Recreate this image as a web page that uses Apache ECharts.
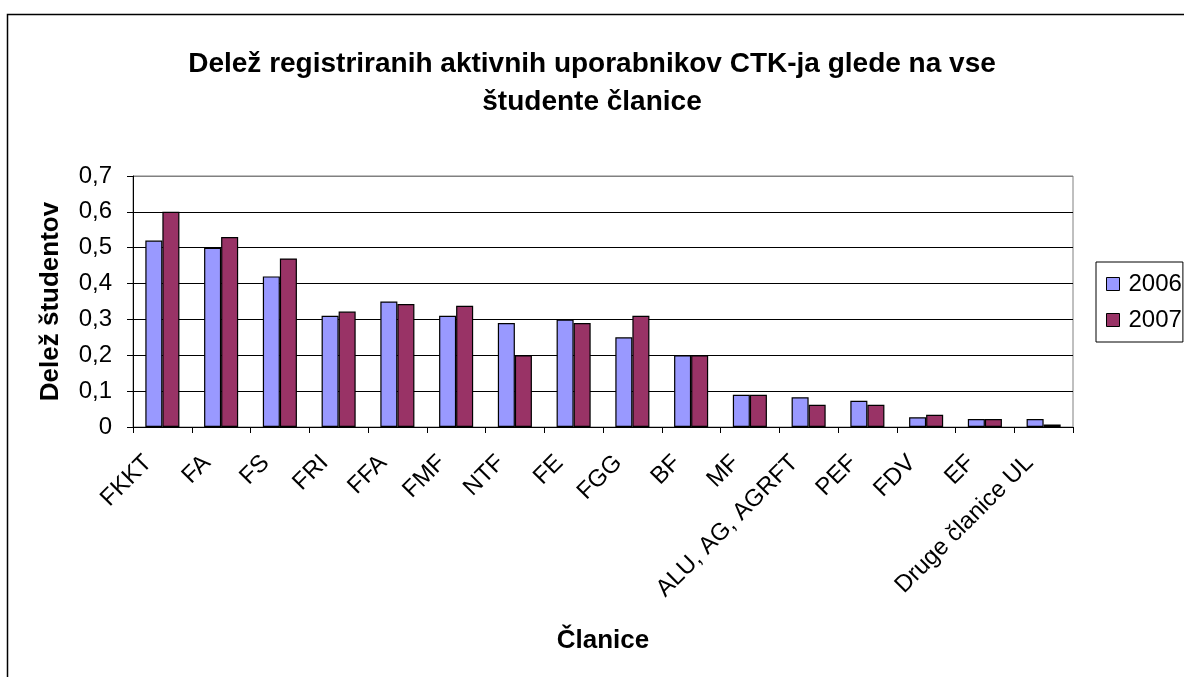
<!DOCTYPE html>
<html>
<head>
<meta charset="utf-8">
<script src="https://cdn.jsdelivr.net/npm/echarts@6/dist/echarts.min.js"></script>
<style>
  html, body { margin: 0; padding: 0; background: #fff; }
  #chart { width: 1184px; height: 677px; }
</style>
</head>
<body>
<div id="chart"></div>
<script>
// članice (kategorije)
const categories = ['FKKT', 'FA', 'FS', 'FRI', 'FFA', 'FMF', 'NTF', 'FE', 'FGG', 'BF', 'MF',
    'ALU, AG, AGRFT', 'PEF', 'FDV', 'EF', 'Druge članice UL'];

// delež študentov po letih
const values2006 = [0.52, 0.50, 0.42, 0.31, 0.35, 0.31, 0.29, 0.30, 0.25, 0.20, 0.09, 0.083, 0.073, 0.027, 0.022, 0.022];
const values2007 = [0.60, 0.53, 0.47, 0.322, 0.343, 0.338, 0.20, 0.29, 0.31, 0.20, 0.09, 0.062, 0.062, 0.034, 0.022, 0.007];

const yTicks = [0, 0.1, 0.2, 0.3, 0.4, 0.5, 0.6, 0.7];

const font = '"Liberation Sans", Arial, sans-serif';

function bar(name, data, color) {
    return {
        name: name,
        type: 'bar',
        data: data,
        barGap: '0%',
        barCategoryGap: '42%',
        itemStyle: { color: color, borderColor: '#000', borderWidth: 1.2 }
    };
}

// zgornja mrežna črta je rob risalne površine (siva)
const gridColors = yTicks.map((v, i) => i === yTicks.length - 1 ? '#808080' : '#000');

const chart = echarts.init(document.getElementById('chart'));
chart.setOption({
    backgroundColor: '#fff',
    animation: false,
    textStyle: { fontFamily: font },
    title: {
        text: 'Delež registriranih aktivnih uporabnikov CTK-ja glede na vse\nštudente članice',
        left: 'center',
        top: 40,
        textStyle: { fontSize: 28, fontWeight: 'bold', color: '#000', lineHeight: 38, fontFamily: font }
    },
    legend: {
        orient: 'vertical',
        left: 1096,
        top: 262,
        padding: [10, 1, 10, 10],
        itemGap: 12,
        itemWidth: 13,
        itemHeight: 13,
        borderColor: '#000',
        borderWidth: 1,
        icon: 'rect',
        itemStyle: { borderColor: '#000', borderWidth: 1 },
        textStyle: { fontSize: 24, color: '#000', fontFamily: font, padding: [0, 0, 0, 4] },
        data: ['2006', '2007']
    },
    grid: {
        left: 133,
        top: 176,
        width: 940,
        height: 251,
        show: true,
        borderColor: '#808080',
        borderWidth: 1,
        containLabel: false
    },
    xAxis: {
        type: 'category',
        data: categories,
        name: 'Članice',
        nameLocation: 'middle',
        nameGap: 201,
        nameTextStyle: { fontSize: 26, fontWeight: 'bold', color: '#000', fontFamily: font },
        axisLine: { lineStyle: { color: '#000', width: 1 } },
        axisTick: { show: true, length: 6, lineStyle: { color: '#000' } },
        axisLabel: {
            rotate: 45, fontSize: 24, color: '#000', margin: 18, interval: 0, fontFamily: font,
            padding: [0, 20, 0, 0]
        }
    },
    yAxis: {
        type: 'value',
        min: 0,
        max: yTicks[yTicks.length - 1],
        interval: 0.1,
        name: 'Delež študentov',
        nameLocation: 'middle',
        nameGap: 69,
        nameTextStyle: { fontSize: 26, fontWeight: 'bold', color: '#000', fontFamily: font },
        axisLine: { show: true, lineStyle: { color: '#000', width: 1 } },
        axisTick: { show: true, length: 6, lineStyle: { color: '#000' } },
        axisLabel: {
            fontSize: 24, color: '#000', margin: 21, fontFamily: font,
            formatter: v => String(Math.round(v * 10) / 10).replace('.', ',')
        },
        splitLine: { show: true, lineStyle: { color: gridColors, width: 1 } }
    },
    graphic: [{
        type: 'rect',
        shape: { x: 7.5, y: 14.5, width: 1300, height: 800 },
        style: { fill: 'none', stroke: '#000', lineWidth: 1.5 },
        silent: true
    }],
    series: [
        bar('2006', values2006, '#9999FF'),
        bar('2007', values2007, '#993366')
    ]
});
</script>
</body>
</html>
